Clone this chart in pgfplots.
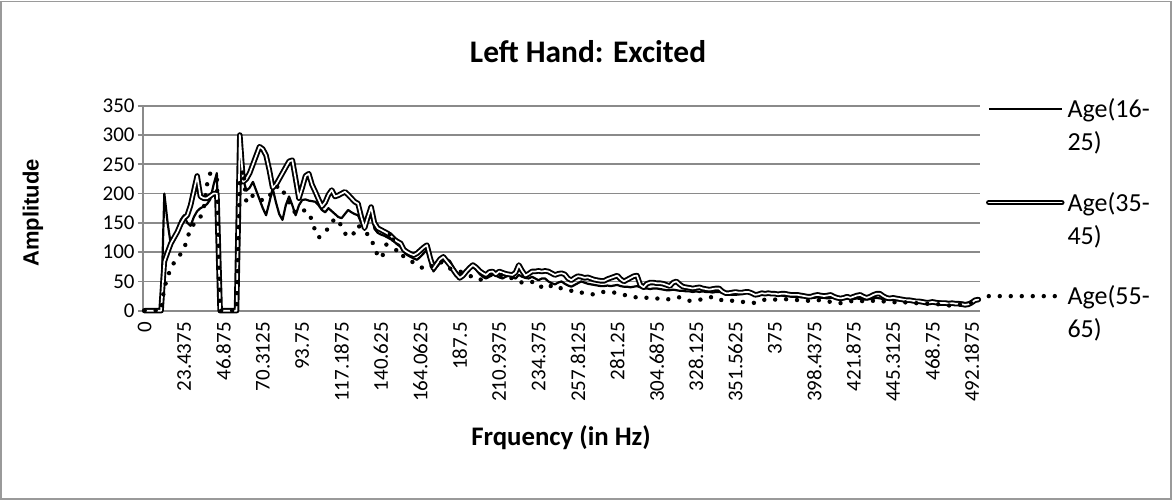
\documentclass[border=0pt]{standalone}
\usepackage{pgfplots}
\usepackage{pgfplotstable}
\pgfplotsset{compat=1.18}
\usepackage{fontspec}
\setmainfont{Carlito}
\newfontfamily\arialfont{Liberation Sans}
\definecolor{gridgray}{HTML}{8A8A8A}
\definecolor{bordergray}{HTML}{9A9A9A}

\pgfplotstableread{
i A B C
0 0 0 0
1 0 0 0
2 0 0 0
3 0 0 0
4 0 0 0
5 0 0 0
6 200 84 40
7 150 100 56
8 112 115 75
9 125 125 82
10 140 135 90
11 155 148 97
12 163 158 105
13 150 163 124
14 145 180 140
15 160 205 148
16 170 230 155
17 175 195 160
18 178 192 175
19 182 192 215
20 190 196 235
21 215 200 232
22 235 200 228
23 0 0 0
24 0 0 0
25 0 0 0
26 0 0 0
27 0 0 0
28 0 0 0
29 290 300 225
30 225 220 240
31 205 225 185
32 210 235 190
33 220 250 197
34 205 265 193
35 190 280 189
36 175 276 189
37 163 265 189
38 185 240 195
39 209 210 206
40 185 215 210
41 165 225 214
42 155 235 205
43 180 245 197
44 195 255 185
45 180 257 175
46 163 225 166
47 180 192 168
48 189 210 170
49 190 230 172
50 188 234 165
51 187 215 155
52 186 203 135
53 180 190 125
54 172 178 128
55 168 185 135
56 175 198 141
57 170 206 150
58 165 195 158
59 160 197 152
60 158 200 145
61 165 203 132
62 172 198 128
63 168 192 126
64 165 186 135
65 163 183 146
66 150 160 140
67 138 141 135
68 155 160 130
69 172 177 125
70 140 150 106
71 133 141 95
72 130 138 89
73 128 135 100
74 125 132 120
75 122 128 135
76 118 122 115
77 113 118 97
78 109 115 98
79 100 104 92
80 95 100 89
81 92 97 85
82 89 95 82
83 87 98 78
84 92 103 75
85 98 108 72
86 104 112 71
87 85 90 75
88 67 72 78
89 75 80 81
90 81 88 84
91 85 92 80
92 88 85 76
93 85 78 72
94 75 70 70
95 66 62 68
96 61 56 67
97 65 60 65
98 70 67 62
99 73 73 60
100 75 78 57
101 70 74 55
102 63 68 52
103 58 64 55
104 55 61 58
105 58 66 60
106 62 67 62
107 60 62 64
108 57 67 62
109 55 65 60
110 58 63 58
111 60 62 58
112 57 61 55
113 55 65 52
114 61 78 50
115 58 68 48
116 56 60 47
117 55 63 47
118 58 67 49
119 55 67 50
120 52 68 45
121 55 67 40
122 55 68 37
123 50 67 40
124 47 64 43
125 45 61 44
126 48 63 40
127 50 64 38
128 46 62 37
129 43 55 36
130 41 52 34
131 44 56 35
132 47 59 33
133 50 58 31
134 48 56 30
135 46 57 29
136 45 55 28
137 44 53 28
138 43 52 30
139 42 51 32
140 42 51 32
141 43 54 31
142 42 56 31
143 43 58 31
144 44 60 30
145 42 54 28
146 41 50 27
147 41 53 26
148 40 56 24
149 41 59 23
150 42 60 23
151 40 44 22
152 38 40 23
153 38 46 22
154 37 48 22
155 38 48 21
156 38 47 21
157 37 47 20
158 36 46 20
159 35 44 19
160 35 42 20
161 36 48 21
162 35 50 22
163 34 45 23
164 34 41 21
165 33 40 19
166 33 39 17
167 32 38 17
168 33 39 18
169 32 40 19
170 33 38 19
171 32 37 21
172 32 36 22
173 31 37 24
174 32 38 22
175 32 38 19
176 31 33 18
177 30 30 17
178 28 30 18
179 27 31 17
180 27 32 16
181 28 31 15
182 29 31 15
183 30 32 15
184 30 32 15
185 29 30 14
186 28 27 13
187 27 28 15
188 28 30 17
189 29 29 19
190 30 30 19
191 29 29 18
192 28 29 19
193 27 28 19
194 26 29 20
195 25 29 20
196 25 28 19
197 24 27 19
198 24 27 19
199 24 27 18
200 23 26 18
201 24 25 17
202 23 24 17
203 22 24 16
204 22 26 17
205 23 27 18
206 22 26 18
207 22 25 17
208 21 26 16
209 22 27 15
210 22 24 14
211 21 22 13
212 20 21 13
213 20 22 13
214 21 24 14
215 20 22 16
216 20 24 17
217 21 26 18
218 20 27 17
219 19 24 16
220 19 22 15
221 20 24 16
222 21 27 17
223 22 29 18
224 21 29 18
225 20 25 16
226 19 22 15
227 19 21 14
228 18 22 14
229 18 21 15
230 18 20 16
231 17 19 15
232 17 18 14
233 17 18 14
234 18 17 13
235 17 16 13
236 17 16 12
237 16 15 12
238 16 14 12
239 16 14 12
240 15 15 11
241 15 14 11
242 16 13 11
243 15 13 10
244 15 13 10
245 15 12 9
246 14 13 8
247 14 12 9
248 14 12 10
249 14 11 11
250 13 10 12
251 14 11 13
252 15 14 14
253 17 18 16
254 19 19 18
}\datatable

\begin{document}
\begin{tikzpicture}
\useasboundingbox (0,0) rectangle (586pt,250pt);
\fill[white] (0,0) rectangle (586pt,250pt);
\draw[bordergray, line width=0.7pt] (0.6pt,0.6pt) rectangle (585.4pt,249.4pt);
\begin{axis}[
  at={(71.5pt,94.65pt)}, anchor=south west,
  scale only axis, width=418.5pt, height=102.5pt,
  xmin=-0.5, xmax=254.5, ymin=0, ymax=350,
  enlargelimits=false, clip=false,
  axis lines*=left,
  axis line style={draw=gridgray, line width=0.9pt},
  ymajorgrids, grid style={draw=gridgray, line width=0.9pt},
  ytick={0,50,...,350},
  xtick={0,12,...,252},
  xticklabels={0,23.4375,46.875,70.3125,93.75,117.1875,140.625,164.0625,187.5,210.9375,234.375,257.8125,281.25,304.6875,328.125,351.5625,375,398.4375,421.875,445.3125,468.75,492.1875},
  tick align=outside, major tick length=2.5pt,
  xtick style={draw=none},
  ytick style={draw=gridgray, line width=0.9pt},
  /pgf/number format/assume math mode=true,
  tick label style={font=\fontsize{10.5}{12}\selectfont},
  yticklabel style={inner sep=0pt, xshift=-1.5pt},
  xticklabel style={anchor=east, rotate=90, inner xsep=3pt, inner ysep=0pt},
  title={Left Hand: Excited},
  title style={at={(axis description cs:0.5317,1.2035)}, anchor=center, font=\bfseries\fontsize{15.7}{18}\selectfont},
  xlabel={Frquency (in Hz)},
  xlabel style={at={(axis description cs:0.4994,-0.621)}, anchor=center, font=\bfseries\fontsize{13.4}{16}\selectfont},
  ylabel={Amplitude},
  ylabel style={at={(axis description cs:-0.1314,0.4766)}, anchor=center, font=\arialfont\bfseries\fontsize{11}{13}\selectfont},
  legend style={
    at={(axis description cs:1.0072,1.055)}, anchor=north west,
    draw=none, fill=none, inner sep=0pt, outer sep=0pt,
    row sep=13.75pt, column sep=1.5pt,
    cells={anchor=base west},
    nodes={inner sep=0pt, text depth=, text height=},
    font=\fontsize{13}{16.5}\selectfont,
  },
  legend image code/.code={\draw[#1] (0pt,4.2pt) -- (36.5pt,4.2pt);},
]
\addplot[black, line width=1.1pt, line join=round] table[x=i, y=A]{\datatable};
\addlegendentry{\begin{tabular}[t]{@{}l@{}}Age(16-\\25)\end{tabular}}
\addplot[black, line width=0.95pt, double=white, double distance=0.85pt, line join=round, line cap=round] table[x=i, y=B]{\datatable};
\addlegendentry{\begin{tabular}[t]{@{}l@{}}Age(35-\\45)\end{tabular}}
\addplot[black, line width=2.2pt, dash pattern=on 0pt off 5.5pt, line cap=round] table[x=i, y=C]{\datatable};
\addlegendentry{\begin{tabular}[t]{@{}l@{}}Age(55-\\65)\end{tabular}}
\end{axis}
\end{tikzpicture}
\end{document}
